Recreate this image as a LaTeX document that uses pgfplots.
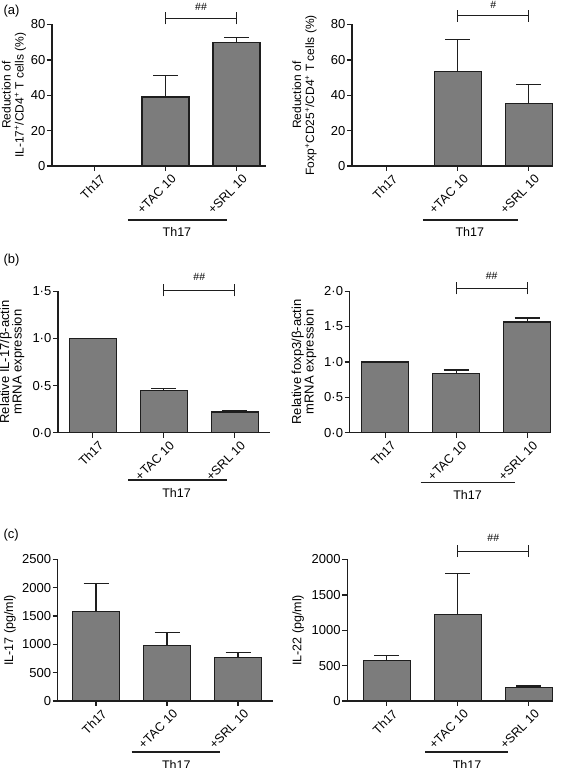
\documentclass[border=0pt]{standalone}
\usepackage{fontspec}
\setmainfont{Liberation Sans}
\usepackage{pgfplots}
\pgfplotsset{compat=1.18}
\definecolor{barfill}{RGB}{124,124,124}
\definecolor{edge}{RGB}{30,30,30}
\tikzset{
 brk/.style={line width=1.3pt, edge},
 grp/.style={line width=1.1pt, edge},
 lab/.style={font=\fontsize{12.5}{14}\selectfont},
 hash/.style={font=\fontsize{10.5}{12}\selectfont},
}
\pgfplotsset{
 panel/.style={
  scale only axis, height=141.5pt, ymin=0,
  axis x line*=bottom, axis y line*=left,
  axis line style={-, line width=1.3pt, edge},
  tick align=outside, major tick length=5pt,
  tick style={edge, line width=1.3pt},
  xtick={0,1,2}, xticklabels={Th17,+TAC 10,+SRL 10},
  xticklabel style={xshift=5pt, yshift=-1pt, rotate=45, anchor=north east, font=\fontsize{12.5}{14}\selectfont, inner sep=1pt},
  yticklabel style={font=\fontsize{13}{15}\selectfont, inner sep=1.5pt},
  ylabel style={font=\fontsize{12}{13}\selectfont, align=center, anchor=center},
  /pgf/number format/assume math mode=true,
  /pgf/number format/1000 sep={},
  scaled y ticks=false,
  clip=false, anchor=south west, enlargelimits=false,
  ybar, bar width=47pt,
 },
 bars/.style={fill=barfill, draw=edge, line width=1.2pt,
   error bars/.cd, y dir=plus, y explicit,
   error bar style={line width=1.3pt, edge},
   error mark options={rotate=90, mark size=12.5pt, line width=1.3pt, edge}},
}
\begin{document}
\begin{tikzpicture}
\useasboundingbox (0,0) rectangle (566pt,768pt);
\node[anchor=west, lab, font=\fontsize{13}{14}\selectfont] at (0pt,757pt) {(a)};
\node[anchor=west, lab, font=\fontsize{13}{14}\selectfont] at (0pt,508pt) {(b)};
\node[anchor=west, lab, font=\fontsize{13}{14}\selectfont] at (0pt,233pt) {(c)};

% (a) left
\begin{axis}[panel, at={(52pt,602pt)}, xmin=-0.6, xmax=2.42, width=214.4pt,
  ymax=80, ytick={0,20,40,60,80},
  ylabel style={at={(axis description cs:-0.177,0.5)}},
  ylabel={Reduction of\\IL-17\textsuperscript{+}/CD4\textsuperscript{+} T cells (\%)}]
\addplot[bars] coordinates {(1,39) +- (0,12) (2,70) +- (0,2.5)};
\draw[brk] (axis cs:1,83.4) -- (axis cs:2,83.4);
\draw[brk] ([yshift=-6pt]axis cs:1,83.4) -- ([yshift=6pt]axis cs:1,83.4);
\draw[brk] ([yshift=-6pt]axis cs:2,83.4) -- ([yshift=6pt]axis cs:2,83.4);
\node[hash] at ([yshift=12pt]axis cs:1.5,83.4) {\#\#};
\draw[grp] ([yshift=-54pt]axis cs:0.47,0) -- ([yshift=-54pt]axis cs:1.86,0);
\node[lab] at ([yshift=-66pt]axis cs:1.16,0) {Th17};
\end{axis}

% (a) right
\begin{axis}[panel, at={(352pt,602pt)}, xmin=-0.49, xmax=2.33, width=200.2pt,
  ymax=80, ytick={0,20,40,60,80},
  ylabel style={at={(axis description cs:-0.237,0.5)}},
  ylabel={Reduction of\\Foxp\textsuperscript{+}CD25\textsuperscript{+}/CD4\textsuperscript{+} T cells (\%)}]
\addplot[bars] coordinates {(1,53.5) +- (0,18) (2,35.5) +- (0,10.5)};
\draw[brk] (axis cs:1,85) -- (axis cs:2,85);
\draw[brk] ([yshift=-6pt]axis cs:1,85) -- ([yshift=6pt]axis cs:1,85);
\draw[brk] ([yshift=-6pt]axis cs:2,85) -- ([yshift=6pt]axis cs:2,85);
\node[hash] at ([yshift=11pt]axis cs:1.5,85) {\#};
\draw[grp] ([yshift=-54pt]axis cs:0.51,0) -- ([yshift=-54pt]axis cs:1.85,0);
\node[lab] at ([yshift=-66pt]axis cs:1.17,0) {Th17};
\end{axis}

% (b) left
\begin{axis}[panel, at={(58pt,335.3pt)}, xmin=-0.49, xmax=2.5, width=212.3pt,
  ymax=1.5, ytick={0,0.5,1,1.5}, yticklabels={0·0,0·5,1·0,1·5},
  ylabel style={at={(axis description cs:-0.217,0.5)}, font=\fontsize{13}{12.5}\selectfont},
  ylabel={Relative IL-17/β-actin\\mRNA expression}]
\addplot[bars] coordinates {(0,1.0) +- (0,0) (1,0.45) +- (0,0.02) (2,0.22) +- (0,0.015)};
\draw[brk] (axis cs:1,1.51) -- (axis cs:2,1.51);
\draw[brk] ([yshift=-6pt]axis cs:1,1.51) -- ([yshift=6pt]axis cs:1,1.51);
\draw[brk] ([yshift=-6pt]axis cs:2,1.51) -- ([yshift=6pt]axis cs:2,1.51);
\node[hash] at ([yshift=13pt]axis cs:1.5,1.51) {\#\#};
\draw[grp] ([yshift=-47.3pt]axis cs:0.5,0) -- ([yshift=-47.3pt]axis cs:1.89,0);
\node[lab] at ([yshift=-60pt]axis cs:1.18,0) {Th17};
\end{axis}

% (b) right
\begin{axis}[panel, at={(349.7pt,335.3pt)}, xmin=-0.5, xmax=2.34, width=201.6pt,
  ymax=2, ytick={0,0.5,1,1.5,2}, yticklabels={0·0,0·5,1·0,1·5,2·0},
  ylabel style={at={(axis description cs:-0.227,0.5)}, font=\fontsize{13}{12.5}\selectfont},
  ylabel={Relative foxp3/β-actin\\mRNA expression}]
\addplot[bars] coordinates {(0,1.0) +- (0,0) (1,0.84) +- (0,0.045) (2,1.565) +- (0,0.055)};
\draw[brk] (axis cs:1,2.04) -- (axis cs:2,2.04);
\draw[brk] ([yshift=-6pt]axis cs:1,2.04) -- ([yshift=6pt]axis cs:1,2.04);
\draw[brk] ([yshift=-6pt]axis cs:2,2.04) -- ([yshift=6pt]axis cs:2,2.04);
\node[hash] at ([yshift=12pt]axis cs:1.5,2.04) {\#\#};
\draw[grp] ([yshift=-50pt]axis cs:0.5,0) -- ([yshift=-50pt]axis cs:1.83,0);
\node[lab] at ([yshift=-62pt]axis cs:1.16,0) {Th17};
\end{axis}

% (c) left
\begin{axis}[panel, at={(57.7pt,67pt)}, xmin=-0.54, xmax=2.49, width=215.1pt,
  ymax=2500, ytick={0,500,1000,1500,2000,2500},
  ylabel style={at={(axis description cs:-0.222,0.5)}, font=\fontsize{12.5}{13}\selectfont},
  ylabel={IL-17 (pg/ml)}]
\addplot[bars] coordinates {(0,1585) +- (0,485) (1,986) +- (0,223) (2,762) +- (0,95)};
\draw[grp] ([yshift=-51pt]axis cs:0.5,0) -- ([yshift=-51pt]axis cs:1.75,0);
\node[lab] at ([yshift=-64pt]axis cs:1.13,0) {Th17};
\end{axis}

% (c) right
\begin{axis}[panel, at={(347.3pt,67pt)}, xmin=-0.556, xmax=2.33, width=204.9pt,
  ymax=2000, ytick={0,500,1000,1500,2000},
  ylabel style={at={(axis description cs:-0.24,0.5)}, font=\fontsize{12.5}{13}\selectfont},
  ylabel={IL-22 (pg/ml)}]
\addplot[bars] coordinates {(0,577) +- (0,71) (1,1225) +- (0,582) (2,193) +- (0,18)};
\draw[brk] (axis cs:1,2117) -- (axis cs:2,2117);
\draw[brk] ([yshift=-6pt]axis cs:1,2117) -- ([yshift=6pt]axis cs:1,2117);
\draw[brk] ([yshift=-6pt]axis cs:2,2117) -- ([yshift=6pt]axis cs:2,2117);
\node[hash] at ([yshift=13pt]axis cs:1.5,2117) {\#\#};
\draw[grp] ([yshift=-51pt]axis cs:0.54,0) -- ([yshift=-51pt]axis cs:1.71,0);
\node[lab] at ([yshift=-64pt]axis cs:1.13,0) {Th17};
\end{axis}
\end{tikzpicture}
\end{document}
